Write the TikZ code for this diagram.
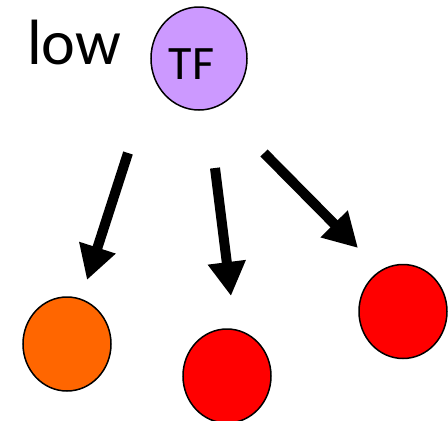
\documentclass[tikz,border=0pt]{standalone}
\usepackage{fontspec}
\setmainfont{Carlito}
\usetikzlibrary{arrows.meta}
\definecolor{tfviolet}{HTML}{CC99FF}
\definecolor{geneorange}{HTML}{FF6600}
\definecolor{genered}{HTML}{FF0000}
\tikzset{
  blob/.style={ellipse, draw=black, line width=1.5pt, minimum width=88pt, minimum height=94pt, inner sep=0pt},
  fatarrow/.style={line width=10pt, -{Triangle[width=36pt,length=34pt]}},
}
\usetikzlibrary{shapes.geometric}
\begin{document}
\begin{tikzpicture}[x=1pt,y=-1pt]
  \useasboundingbox (0,0) rectangle (448,421);
  % label
  \node[anchor=base west, inner sep=0pt, font=\fontsize{64}{64}\selectfont] (low) at (27,64) {low};
  % transcription factor
  \node[blob, fill=tfviolet, minimum width=96pt, minimum height=103pt] (tf) at (199,58.5) {};
  \node[anchor=base, inner sep=0pt, font=\fontsize{48}{48}\selectfont] (tflabel) at (191.5,79.5) {TF};
  % target genes
  \node[blob, fill=geneorange] (g1) at (67,344) {};
  \node[blob, fill=genered] (g2) at (227,376) {};
  \node[blob, fill=genered] (g3) at (403,311.5) {};
  % arrow ends
  \coordinate (a1s) at (128,153);
  \coordinate (a1e) at (87,280);
  \coordinate (a2s) at (215,168);
  \coordinate (a2e) at (231,296);
  \coordinate (a3s) at (264,153);
  \coordinate (a3e) at (358,248);
  \draw[fatarrow] (a1s) -- (a1e);
  \draw[fatarrow] (a2s) -- (a2e);
  \draw[fatarrow] (a3s) -- (a3e);
\end{tikzpicture}
\end{document}
